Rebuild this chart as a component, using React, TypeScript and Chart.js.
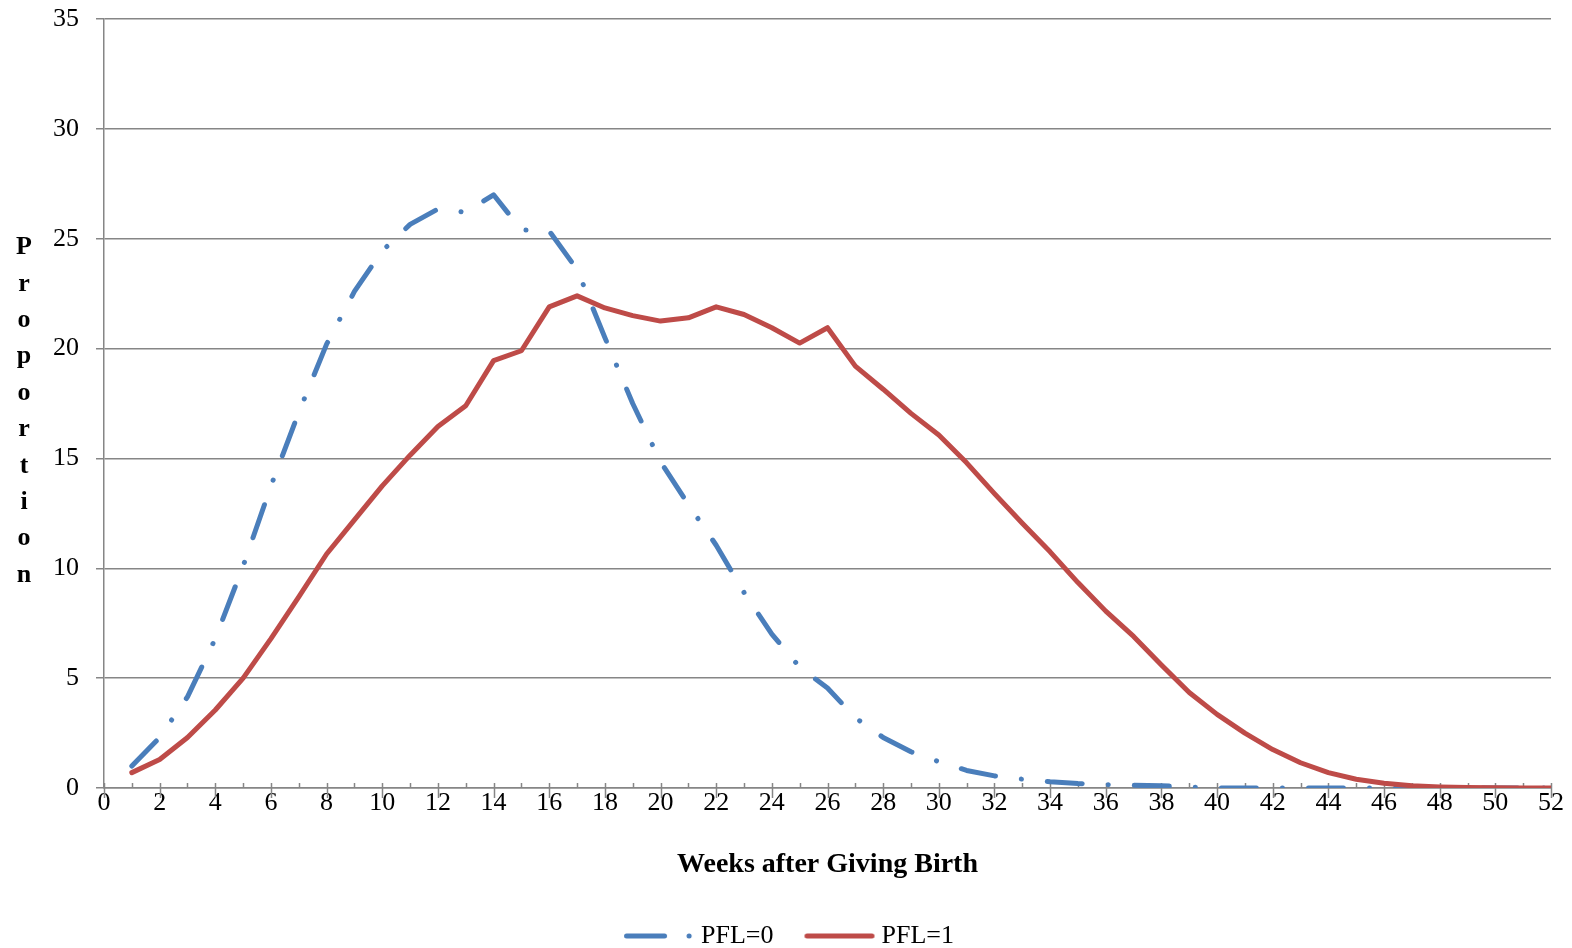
import { useEffect, useRef } from "react";
import { Chart, registerables } from "chart.js";

Chart.register(...registerables);

// Weeks after giving birth (x values)
const weeks = [
  1, 2, 3, 4, 5, 6, 7, 8, 9, 10, 11, 12, 13, 14, 15, 16, 17, 18, 19, 20, 21, 22, 23, 24, 25, 26,
  27, 28, 29, 30, 31, 32, 33, 34, 35, 36, 37, 38, 39, 40, 41, 42, 43, 44, 45, 46, 47, 48, 49, 50, 51, 52,
];

// Proportion returning, PFL = 0
const pfl0 = [
  1.0, 2.3, 4.15, 6.8, 10.1, 13.75, 17.1, 20.2, 22.6, 24.45, 25.65, 26.35, 26.2, 27.0, 25.4, 25.35,
  23.6, 20.5, 17.5, 14.85, 12.9, 11.05, 8.9, 7.0, 5.5, 4.55, 3.2, 2.3, 1.65, 1.2, 0.8, 0.55, 0.4,
  0.28, 0.2, 0.15, 0.12, 0.1, 0.05, 0, 0, 0, 0, 0, 0, 0, 0, 0, 0, 0, 0, 0,
];

// Proportion returning, PFL = 1
const pfl1 = [
  0.7, 1.3, 2.3, 3.55, 5.0, 6.8, 8.7, 10.65, 12.2, 13.75, 15.15, 16.45, 17.4, 19.45, 19.9, 21.9,
  22.4, 21.85, 21.5, 21.25, 21.4, 21.9, 21.55, 20.95, 20.25, 20.95, 19.2, 18.15, 17.05, 16.07, 14.8,
  13.4, 12.05, 10.75, 9.35, 8.05, 6.9, 5.6, 4.35, 3.35, 2.5, 1.75, 1.15, 0.7, 0.4, 0.22, 0.1, 0.05,
  0.02, 0.01, 0, 0,
];

const seriesLabels = ["PFL=0", "PFL=1"];
const xTitle = "Weeks after Giving Birth";
const yTitle = "Proportion";

const FONT = "'Liberation Serif', 'Times New Roman', serif";
const GRID = "#868686";
const BLUE = "#4A7EBB";
const RED = "#BE4B48";
const DASH_DOT = [35, 26, 0.1, 26];

// Small line swatch used as the legend marker
function makeSwatch(color: string, dash: number[]) {
  const c = document.createElement("canvas");
  c.width = 96;
  c.height = 10;
  const g = c.getContext("2d");
  if (g) {
    g.strokeStyle = color;
    g.lineWidth = 5;
    g.lineCap = "round";
    g.setLineDash(dash);
    g.beginPath();
    g.moveTo(21.5, 5);
    g.lineTo(86.5, 5);
    g.stroke();
  }
  return c;
}

// Vertical, letter-by-letter y-axis title
const stackedYTitle = {
  id: "stackedYTitle",
  afterDraw(chart: any) {
    const { ctx, chartArea } = chart;
    const letters = yTitle.split("");
    const step = 36.4;
    const mid = (chartArea.top + chartArea.bottom) / 2;
    const first = mid - ((letters.length - 1) / 2) * step + 14.5;
    ctx.save();
    ctx.font = `bold 26px ${FONT}`;
    ctx.fillStyle = "#000";
    ctx.textAlign = "center";
    ctx.textBaseline = "alphabetic";
    letters.forEach((ch, i) => ctx.fillText(ch, 24, first + i * step));
    ctx.restore();
  },
};

// Week tick marks on the x axis: even weeks cross the axis, odd weeks sit inside
const weekTicks = {
  id: "weekTicks",
  beforeDatasetsDraw(chart: any) {
    const { ctx, chartArea, scales } = chart;
    const xs = scales.x;
    const b = chartArea.bottom;
    ctx.save();
    ctx.strokeStyle = GRID;
    ctx.lineWidth = 1.5;
    ctx.beginPath();
    for (let w = 0; w <= 52; w++) {
      const x = Math.round(xs.getPixelForValue(w)) + 0.5;
      ctx.moveTo(x, b - 5);
      ctx.lineTo(x, w % 2 === 0 ? b + 10 : b);
    }
    ctx.stroke();
    ctx.restore();
  },
};

export default function App() {
  const ref = useRef<HTMLCanvasElement | null>(null);

  useEffect(() => {
    document.body.style.margin = "0";
    const canvas = ref.current;
    if (!canvas) return;

    const swatches = [makeSwatch(BLUE, [38, 24.5, 0.1, 40]), makeSwatch(RED, [])];

    const chart = new Chart(canvas, {
      type: "line",
      data: {
        datasets: [
          {
            label: seriesLabels[0],
            data: weeks.map((w, i) => ({ x: w, y: pfl0[i] })),
            borderColor: BLUE,
            backgroundColor: BLUE,
            borderWidth: 5,
            borderDash: DASH_DOT,
            borderCapStyle: "round",
            borderJoinStyle: "round",
            pointRadius: 0,
            tension: 0,
            order: 1,
          },
          {
            label: seriesLabels[1],
            data: weeks.map((w, i) => ({ x: w, y: pfl1[i] })),
            borderColor: RED,
            backgroundColor: RED,
            borderWidth: 5,
            borderCapStyle: "round",
            borderJoinStyle: "round",
            pointRadius: 0,
            tension: 0,
            order: 0,
          },
        ],
      },
      options: {
        responsive: false,
        animation: false,
        events: [],
        layout: { padding: { left: 0, right: 0, top: 19, bottom: 0 } },
        plugins: {
          tooltip: { enabled: false },
          legend: {
            position: "bottom",
            maxHeight: 50,
            labels: {
              usePointStyle: true,
              pointStyleWidth: 70,
              padding: 25,
              color: "#000",
              font: { family: FONT, size: 26 },
              sort: (a: any, b: any) => a.datasetIndex - b.datasetIndex,
              generateLabels: (c: any) => {
                const items = Chart.defaults.plugins.legend.labels.generateLabels(c);
                items.forEach((it: any) => {
                  it.pointStyle = swatches[it.datasetIndex];
                  it.rotation = 0;
                });
                return items;
              },
            },
          },
        },
        scales: {
          x: {
            type: "linear",
            min: 0,
            max: 52,
            afterFit: (s: any) => {
              s.height = 110;
            },
            ticks: {
              stepSize: 2,
              autoSkip: false,
              maxRotation: 0,
              padding: 0,
              color: "#000",
              font: { family: FONT, size: 26 },
            },
            grid: { display: false, drawTicks: false },
            border: { display: true, color: GRID, width: 1.5 },
            title: {
              display: true,
              text: xTitle,
              color: "#000",
              font: { family: FONT, size: 28, weight: "bold" },
              padding: { top: 0, bottom: 16 },
            },
          },
          y: {
            min: 0,
            max: 35,
            afterFit: (s: any) => {
              s.width = 104;
              s.paddingTop = 0;
              s.paddingBottom = 0;
            },
            ticks: {
              stepSize: 5,
              padding: 17,
              color: "#000",
              font: { family: FONT, size: 26 },
            },
            grid: { color: GRID, lineWidth: 1.5, tickLength: 8 },
            border: { display: true, color: GRID, width: 1.5 },
          },
          // empty right-hand gutter so the plot ends short of the canvas edge
          gutter: {
            type: "linear",
            position: "right",
            display: true,
            afterFit: (s: any) => {
              s.width = 21;
              s.paddingTop = 0;
              s.paddingBottom = 0;
            },
            ticks: { display: false },
            grid: { display: false, drawTicks: false },
            border: { display: false },
          },
        },
      },
      plugins: [stackedYTitle, weekTicks],
    });

    return () => chart.destroy();
  }, []);

  return (
    <div style={{ width: 1572, height: 948 }}>
      <canvas ref={ref} width={1572} height={948} />
    </div>
  );
}
